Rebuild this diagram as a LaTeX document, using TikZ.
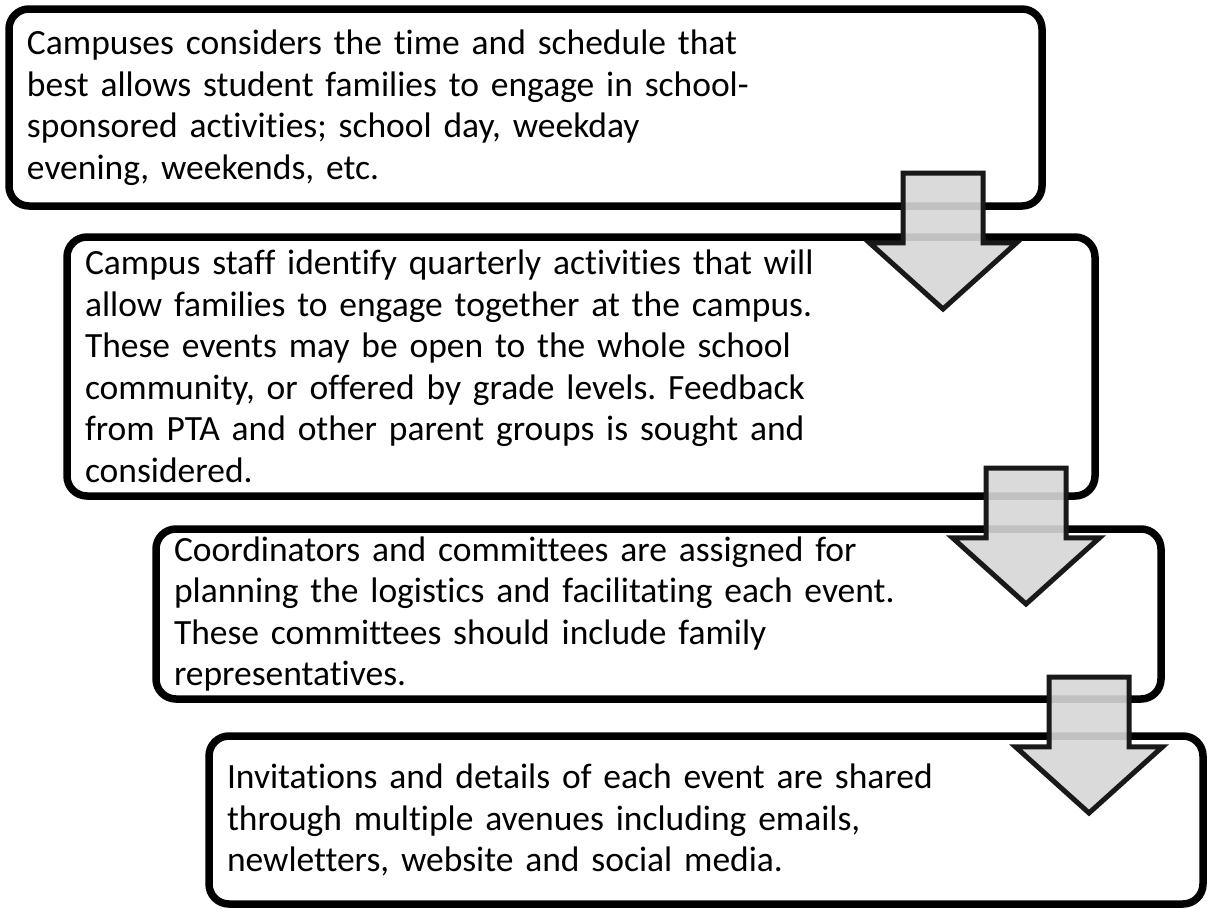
\documentclass[tikz,border=0pt]{standalone}
\usepackage{fontspec}
\setmainfont[Ligatures=CommonOff]{Carlito}
\usetikzlibrary{shapes.arrows,shadows}
\frenchspacing

\tikzset{
  stepbox/.style={draw, line width=7.5pt, rounded corners=20pt, fill=white,
    align=left, inner xsep=18pt, inner ysep=0pt,
    font=\fontsize{35.5}{41.5}\selectfont,
    drop shadow={opacity=.25, shadow xshift=2pt, shadow yshift=-2.5pt}},
  flowarrow/.style={single arrow, draw=black!90, line width=5pt,
    fill=black!16, fill opacity=.9, single arrow tip angle=96,
    single arrow head extend=33.5pt, inner xsep=0pt, inner ysep=37.5pt,
    minimum height=136pt, rotate=-90, anchor=tail}
}

\begin{document}
\begin{tikzpicture}[x=1pt,y=-1pt]
  \useasboundingbox (0,0) rectangle (1207,908);

  \node[stepbox, minimum width=1033pt, minimum height=197pt, text width=997pt]
    (s1) at (525.5,107.5) {Campuses considers the time and schedule that\\
      best allows student families to engage in school-\\
      sponsored activities; school day, weekday\\
      evening, weekends, etc.};
  \node[stepbox, minimum width=1028pt, minimum height=259pt, text width=992pt]
    (s2) at (581,366.5) {Campus staff identify quarterly activities that will\\
      allow families to engage together at the campus.\\
      These events may be open to the whole school\\
      community, or offered by grade levels. Feedback\\
      from PTA and other parent groups is sought and\\
      considered.};
  \node[stepbox, minimum width=1005pt, minimum height=170pt, text width=969pt]
    (s3) at (658.5,614) {Coordinators and committees are assigned for\\
      planning the logistics and facilitating each event.\\
      These committees should include family\\
      representatives.};
  \node[stepbox, minimum width=994pt, minimum height=168pt, text width=958pt]
    (s4) at (706,820) {Invitations and details of each event are shared\\
      through multiple avenues including emails,\\
      newletters, website and social media.};

  \foreach \x/\y [count=\i] in {943/170.5, 1026/465.5, 1089/674.5}
    \node[flowarrow] (down\i) at (\x,\y) {};
\end{tikzpicture}
\end{document}
